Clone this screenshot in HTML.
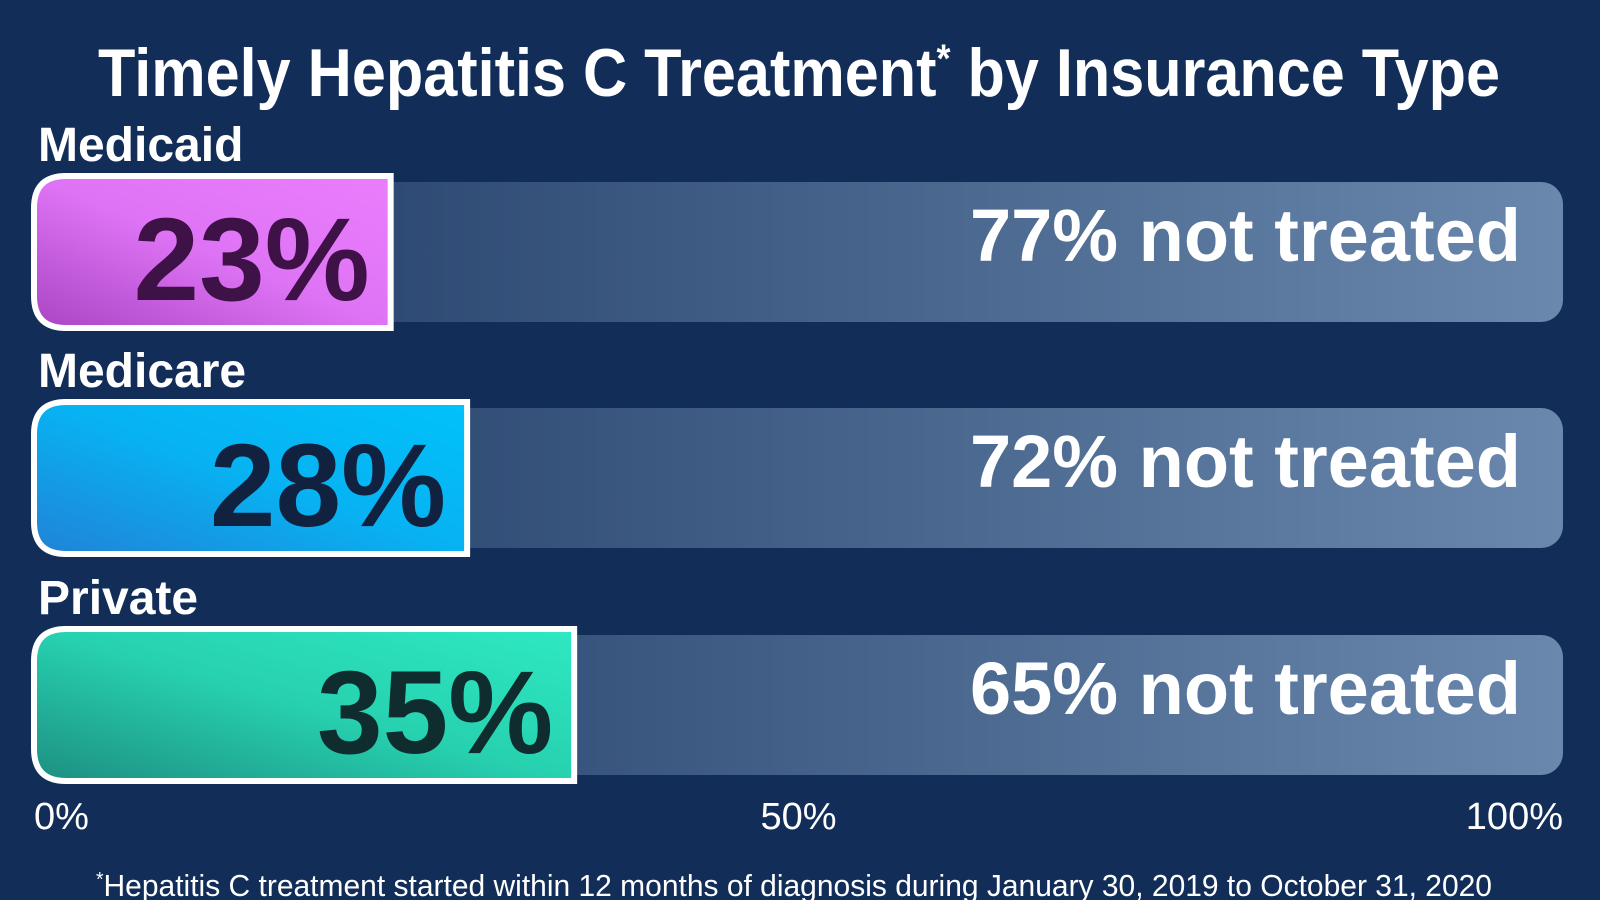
<!DOCTYPE html>
<html><head><meta charset="utf-8"><style>
html,body{margin:0;padding:0;background:#112d58;}
svg{display:block;}
text{font-family:"Liberation Sans Narrow","Liberation Sans",sans-serif;}
</style></head><body>
<svg id="chart" width="1600" height="900" viewBox="0 0 1600 900" xmlns="http://www.w3.org/2000/svg">
<defs>
<linearGradient id="track" x1="0" x2="1" y1="0" y2="0"><stop offset="0" stop-color="#1c3863"/><stop offset="1" stop-color="#6a88ad"/></linearGradient>
<linearGradient id="g0" x1="0" x2="1" y1="1" y2="0"><stop offset="0" stop-color="#a945c4"/><stop offset="0.5" stop-color="#de74f5"/><stop offset="1" stop-color="#ea7dfc"/></linearGradient>
<linearGradient id="g1" x1="0" x2="1" y1="1" y2="0"><stop offset="0" stop-color="#2182d6"/><stop offset="0.5" stop-color="#08b2f2"/><stop offset="1" stop-color="#00c2fa"/></linearGradient>
<linearGradient id="g2" x1="0" x2="1" y1="1" y2="0"><stop offset="0" stop-color="#1d8f82"/><stop offset="0.5" stop-color="#27d1b0"/><stop offset="1" stop-color="#2ee9c2"/></linearGradient>
</defs>
<rect width="1600" height="900" fill="#112d58"/>
<text x="799" y="96" text-anchor="middle" font-size="68" font-weight="bold" fill="#fff" textLength="1402" lengthAdjust="spacingAndGlyphs">Timely Hepatitis C Treatment<tspan font-size="40" dy="-24">*</tspan><tspan dy="24"> by Insurance Type</tspan></text>
<g id="bars"></g>
<text x="794" y="896" text-anchor="middle" font-size="31" fill="#fff" textLength="1396" lengthAdjust="spacingAndGlyphs"><tspan font-size="20" dy="-10">*</tspan><tspan dy="10">Hepatitis C treatment started within 12 months of diagnosis during January 30, 2019 to October 31, 2020</tspan></text>
</svg>
<script>
const categories = ["Medicaid","Medicare","Private"];
const treated = [23, 28, 35];
const tickLabels = ["0%","50%","100%"];
const tickValues = [0, 50, 100];

const NS = "http://www.w3.org/2000/svg";
const svg = document.getElementById("bars");
const x0 = 34, x1 = 1563;
const xs = v => x0 + (x1 - x0) * v / 100;
const rowTop = [182, 408, 635];
const trackH = 140;
const fills = ["url(#g0)","url(#g1)","url(#g2)"];
const numColors = ["#3e1147","#10223f","#0f2c2f"];
function el(tag, attrs, txt){const e=document.createElementNS(NS,tag);for(const k in attrs)e.setAttribute(k,attrs[k]);if(txt!==undefined)e.textContent=txt;svg.appendChild(e);return e;}
categories.forEach((c,i)=>{
  const t = rowTop[i];
  const lbl = el("text",{x:38,y:t-21,"font-size":48,"font-weight":"bold",fill:"#fff"},c);
  
  
  const tr = el("rect",{x:x0,y:t,width:x1-x0,height:trackH,rx:22,fill:"url(#track)"});
  
  
  const right = xs(treated[i]) + 8;
  const b = el("path",{d:`M${x0+32},${t-6} L${right-3},${t-6} L${right-3},${t+trackH+6} L${x0+32},${t+trackH+6} Q${x0},${t+trackH+6} ${x0},${t+trackH-26} L${x0},${t+26} Q${x0},${t-6} ${x0+32},${t-6} Z`,fill:fills[i],stroke:"#fff","stroke-width":6});
  
  
  const n = el("text",{x:right-24,y:t+118,"text-anchor":"end","font-size":118,"font-weight":"bold",fill:numColors[i]},treated[i]+"%");
  
  
  const nt = el("text",{x:1521,y:t+79,"text-anchor":"end","font-size":74,"font-weight":"bold",fill:"#fff"},(100-treated[i])+"% not treated");
  
  
});
tickValues.forEach((v,i)=>{
  const anchor = i===0?"start":(i===tickValues.length-1?"end":"middle");
  const tk = el("text",{x:xs(v),y:829,"text-anchor":anchor,"font-size":38,fill:"#fff"},tickLabels[i]);
  
  
});
</script>
</body></html>
